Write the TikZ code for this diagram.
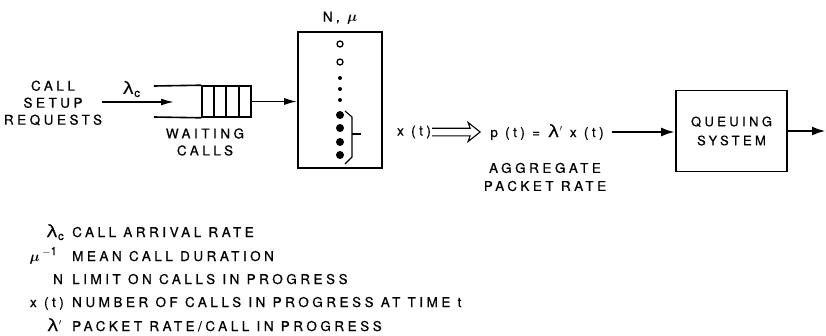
\documentclass[tikz,border=0pt]{standalone}
\usepackage{amsmath}
\usepackage{fontspec}
\setmainfont{TeX Gyre Heros}[LetterSpace=26, FakeBold=0.6]
\newfontfamily\grkfont{TeX Gyre Heros}[FakeBold=0.6]
\usetikzlibrary{arrows.meta,calc}
\newcommand{\lamsym}{{\grkfont\fontsize{18}{18}\selectfont λ}}
\newcommand{\lamc}{\lamsym\raisebox{-3pt}{\fontsize{11.5}{11.5}\selectfont c}}
\begin{document}
\begin{tikzpicture}[x=1pt,y=-1pt,
  lbl/.style={font=\fontsize{13.5}{17}\selectfont, inner sep=0pt, align=center},
  thinln/.style={line width=1.6pt},
  arr/.style={line width=1.6pt, -{Latex[length=13pt,width=7pt]}},
  thickarr/.style={line width=2.6pt, -{Latex[length=14pt,width=9pt]}}]
\useasboundingbox (0,0) rectangle (826,335);

% input
\node[lbl] (req) at (53,103) {CALL\\SETUP\\REQUESTS};
\coordinate (inS) at (102,102);
\coordinate (inE) at (174,102);
\draw[arr] (inS) -- (inE);
\node[lbl] (lc) at (131,89) {\lamc};

% queue
\node[draw, thinln, minimum width=49pt, minimum height=31pt, inner sep=0pt] (queue) at (226.5,101.5) {};
\draw[thinln] (154,86) -- (queue.north west);
\draw[thinln] (154,117) -- (queue.south west);
\foreach \x in {214,226,239} \draw[thinln] (\x,86) -- (\x,117);
\node[lbl] (wait) at (205,142) {WAITING\\CALLS};

% pool of calls
\node[draw, line width=1.6pt, minimum width=84pt, minimum height=136pt, inner sep=0pt] (pool) at (340,100) {};
\node[lbl] (nmu) at (340,18) {N, {\fontsize{15}{15}\selectfont$\boldsymbol{\mu}$}};
\draw[arr] (queue.east) -- (queue.east -| pool.west);
\foreach \y in {44,62} \draw[line width=1.3pt] (340,\y) circle (3pt);
\foreach \y in {78,89,100} \fill (340,\y) circle (2pt);
\foreach \y in {115,128,142,155} \fill (340,\y) circle (4pt);
\draw[line width=1.1pt] (345,111) -- (352,117) -- (352,157) -- (345,164);
\draw[line width=1.1pt] (352,134) -- (361,134);

% x(t) -> p(t)
\node[lbl] (xt) at (414,132) {x (t)};
\node[lbl] (pt) at (547,132) {p (t) = \lamsym$'$ x (t)};
\coordinate (da1) at ($(xt.east)+(1,0)$);
\coordinate (da2) at ($(pt.west)+(-10,0)$);
\draw[line width=1.1pt, line join=miter] ($(da1)+(0,-3.8)$) -- ($(da2)+(-10,-3.8)$) -- ($(da2)+(-12,-9.5)$) -- (da2) -- ($(da2)+(-12,9.5)$) -- ($(da2)+(-10,3.8)$) -- ($(da1)+(0,3.8)$);
\node[lbl, font=\fontsize{13.5}{18}\selectfont] (agg) at (545,177) {AGGREGATE\\PACKET RATE};

% queuing system
\node[draw, line width=1.7pt, minimum width=111pt, minimum height=81pt, lbl, font=\fontsize{13}{19}\selectfont] (qs) at (731.5,131) {QUEUING\\SYSTEM};
\draw[thickarr, shorten <=8pt] (pt.east) -- (pt.east -| qs.west);
\coordinate (out) at (826,131);
\draw[thickarr] (qs.east) -- (out);

% legend
\node[lbl, anchor=base east] (s1) at (64,237) {\lamc};
\node[lbl, anchor=base east] (s2) at (57,261) {{\fontsize{15}{15}\selectfont$\boldsymbol{\mu}$}\,\raisebox{6pt}{\fontsize{11}{11}\selectfont$-$1}};
\node[lbl, anchor=base east] (s3) at (63,284) {N};
\node[lbl, anchor=base east] (s4) at (64,307) {x (t)};
\node[lbl, anchor=base east] (s5) at (62,331) {\lamsym$'$};
\node[lbl, anchor=base west] (d1) at (72,237) {CALL ARRIVAL RATE};
\node[lbl, anchor=base west] (d2) at (72,261) {MEAN CALL DURATION};
\node[lbl, anchor=base west] (d3) at (72,284) {LIMIT ON CALLS IN PROGRESS};
\node[lbl, anchor=base west] (d4) at (72,307) {NUMBER OF CALLS IN PROGRESS AT TIME t};
\node[lbl, anchor=base west] (d5) at (72,331) {PACKET RATE/CALL IN PROGRESS};
\end{tikzpicture}
\end{document}
